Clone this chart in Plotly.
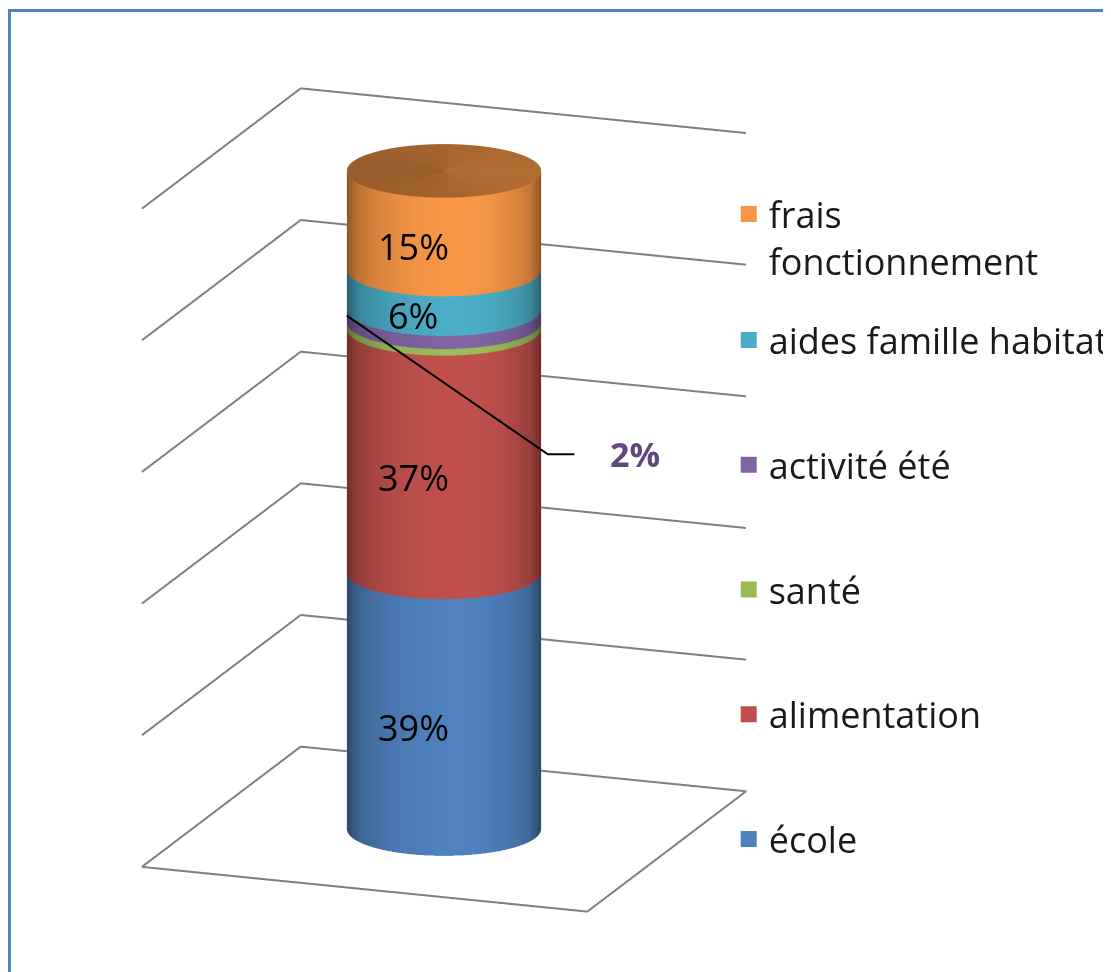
import numpy as np
import plotly.graph_objects as go

# données (répartition en %)
categories = ["école", "alimentation", "santé", "activité été",
              "aides famille habitat", "frais fonctionnement"]
legend_names = ["école", "alimentation", "santé", "activité été",
                "aides famille habitat", "frais<br>fonctionnement"]
values = [39, 37, 1, 2, 6, 15]
value_labels = ["39%", "37%", "", "2%", "6%", "15%"]
colors = ["#4F81BD", "#C0504D", "#9BBB59", "#8064A2", "#4BACC6", "#F79646"]
grid_ticks = [20, 40, 60, 80, 100]

# géométrie de la scène (sol = 1 x 0.98, cylindre au centre)
floor_w, floor_d = 1.0, 0.98
cx, cy, radius = 0.5, 0.49, 0.205
beta, phi = np.radians(20), np.radians(16)
eye_dir = np.array([np.cos(phi) * np.sin(beta), -np.cos(phi) * np.cos(beta), np.sin(phi)])
px_per_unit, px_per_pct = 479.0, 6.92
zoom_eye = 1.985
aspect = dict(x=1.0, y=floor_d, z=100 * px_per_pct / px_per_unit)


def shade(hex_color, f):
    h = hex_color.lstrip("#")
    rgb = [int(h[i:i + 2], 16) for i in (0, 2, 4)]
    return "rgb(%d,%d,%d)" % tuple(min(255, int(c * f)) for c in rgb)


def side_scale(hex_color):
    scale = []
    for u in np.linspace(-1, 1, 21):
        d = (u - 0.15) / (1.15 if u < 0.15 else 0.85)
        f = 0.58 + 0.43 * np.sqrt(max(0.0, 1 - d * d))
        scale.append([(u + 1) / 2, shade(hex_color, f)])
    return scale


fig = go.Figure()

theta = np.linspace(0, 2 * np.pi, 121)
u = np.cos(theta - beta)
flat = dict(ambient=1, diffuse=0, specular=0, fresnel=0, roughness=1)
bottom = 0
for cat, val, col in zip(categories, values, colors):
    top = bottom + val
    xs = np.tile(cx + radius * np.cos(theta), (2, 1))
    ys = np.tile(cy + radius * np.sin(theta), (2, 1))
    zs = np.array([[bottom] * len(theta), [top] * len(theta)])
    fig.add_trace(go.Surface(
        x=xs, y=ys, z=zs, surfacecolor=np.tile(u, (2, 1)),
        colorscale=side_scale(col), cmin=-1, cmax=1, showscale=False,
        lighting=flat, hoverinfo="skip", name=cat))
    bottom = top

# couvercle du cylindre
rr = np.array([0, radius])[:, None]
fig.add_trace(go.Surface(
    x=cx + rr * np.cos(theta), y=cy + rr * np.sin(theta),
    z=np.full((2, len(theta)), float(bottom)),
    surfacecolor=np.tile(u, (2, 1)),
    colorscale=[[0, shade(colors[-1], 0.62)], [1, shade(colors[-1], 0.72)]],
    cmin=-1, cmax=1, showscale=False, hoverinfo="skip", lighting=flat))

# sol + quadrillage sur les parois
gx, gy, gz = [0, floor_w, floor_w, 0, 0, None], [0, 0, floor_d, floor_d, 0, None], [0, 0, 0, 0, 0, None]
for t in grid_ticks:
    gx += [0, 0, floor_w, None]
    gy += [0, floor_d, floor_d, None]
    gz += [t, t, t, None]
fig.add_trace(go.Scatter3d(x=gx, y=gy, z=gz, mode="lines",
                           line=dict(color="#7f7f7f", width=4),
                           hoverinfo="skip", showlegend=False))

# ligne de rappel pour "2%" (placée devant le cylindre, vers la caméra)
z_act = sum(values[:3]) + values[3] / 2
off = 160
start = np.array([cx - radius * np.cos(beta), cy - radius * np.sin(beta), z_act])
step = np.array([eye_dir[0] / px_per_unit, eye_dir[1] / px_per_unit, eye_dir[2] / px_per_pct]) * off
start = start + step
dx_px = 203 / np.cos(beta)
dz_px = (140 - dx_px * np.sin(beta) * np.sin(phi)) / np.cos(phi)
elbow = start + np.array([dx_px / px_per_unit, 0, -dz_px / px_per_pct])
a_px = 27 / (np.cos(beta) + np.sin(beta) * np.tan(beta))
end = elbow + np.array([a_px / px_per_unit, a_px * np.tan(beta) / px_per_unit, 0])
lead = np.array([start, elbow, end])
fig.add_trace(go.Scatter3d(x=lead[:, 0], y=lead[:, 1], z=lead[:, 2], mode="lines",
                           line=dict(color="#000000", width=4),
                           hoverinfo="skip", showlegend=False))

# étiquettes
annotations = []
bottom = 0
for val, lab in zip(values, value_labels):
    mid = bottom + val / 2
    bottom += val
    if not lab or lab == "2%":
        continue
    annotations.append(dict(
        x=cx + radius * np.sin(beta), y=cy - radius * np.cos(beta), z=mid,
        text=lab, showarrow=False, xshift=-31,
        font=dict(family="Open Sans", size=36, color="#000000")))
annotations.append(dict(
    x=end[0], y=end[1], z=end[2], text="<b>2%</b>", showarrow=False,
    xanchor="left", xshift=33,
    font=dict(family="Open Sans", size=34, color="#604A7B")))

# légende (traces vides), de haut en bas
for i in range(len(categories) - 1, -1, -1):
    fig.add_trace(go.Scatter(
        x=[None], y=[None], mode="markers", name=legend_names[i],
        marker=dict(symbol="square", size=16, color=colors[i]),
        legendgroup=str(i), legend="legend2" if i == 5 else "legend"))

axis_off = dict(visible=False, showbackground=False)
legend_font = dict(family="Open Sans", size=36, color="#1a1a1a")
fig.update_layout(
    width=1111, height=972,
    margin=dict(l=0, r=0, t=0, b=0, autoexpand=False),
    paper_bgcolor="white", plot_bgcolor="rgba(0,0,0,0)",
    xaxis=dict(visible=False), yaxis=dict(visible=False),
    scene=dict(
        domain=dict(x=[0, 0.785], y=[0.0067, 0.9817]),
        xaxis=dict(axis_off, range=[0, floor_w]),
        yaxis=dict(axis_off, range=[0, floor_d]),
        zaxis=dict(axis_off, range=[0, 100]),
        aspectmode="manual", aspectratio=aspect,
        camera=dict(eye=dict(x=eye_dir[0] * zoom_eye, y=eye_dir[1] * zoom_eye, z=eye_dir[2] * zoom_eye),
                    up=dict(x=0, y=0, z=1), center=dict(x=0, y=0, z=0),
                    projection=dict(type="orthographic")),
        annotations=annotations,
        bgcolor="white"),
    legend=dict(x=0.6487, y=1 - 302 / 972, xanchor="left", yanchor="top",
                traceorder="grouped", tracegroupgap=75,
                font=legend_font, bgcolor="rgba(0,0,0,0)"),
    legend2=dict(x=0.6487, y=1 - 176 / 972, xanchor="left", yanchor="top",
                 valign="top", font=legend_font, bgcolor="rgba(0,0,0,0)"),
    shapes=[dict(type="rect", xref="paper", yref="paper",
                 x0=1.5 / 1111, x1=1.05, y0=-0.05, y1=1 - 2.5 / 972,
                 line=dict(color="#4F81BD", width=3))],
)

fig.write_html("out.html")
